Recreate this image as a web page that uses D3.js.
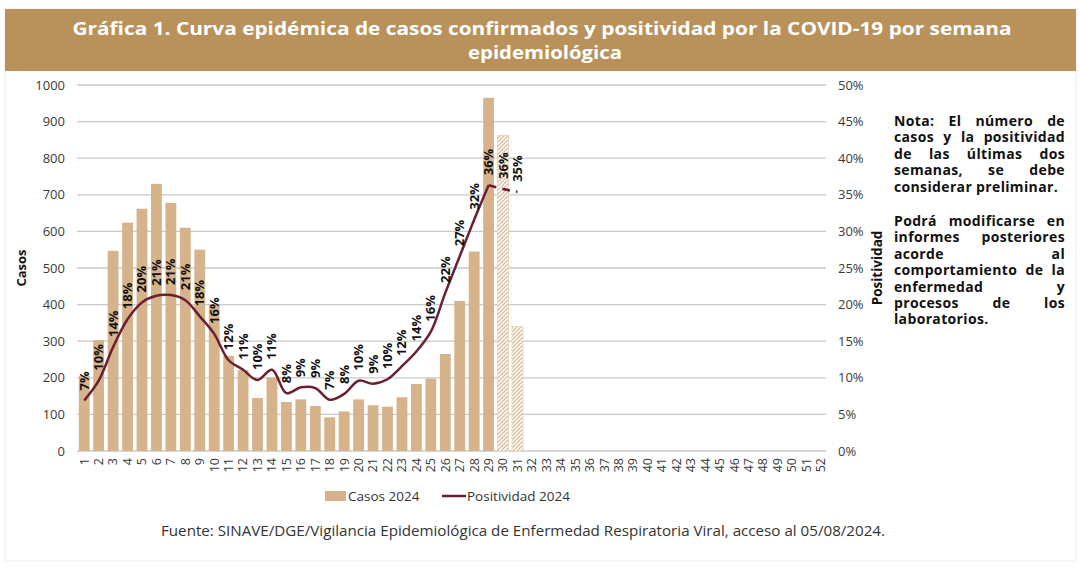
<!DOCTYPE html>
<html>
<head>
<meta charset="utf-8">
<script src="https://cdn.jsdelivr.net/npm/d3@7"></script>
<style>
  html, body { margin: 0; padding: 0; background: #ffffff; }
  svg { display: block; }
</style>
</head>
<body>
<svg id="chart" width="1080" height="568"></svg>
<script>
// ---------------- DATA ----------------
const weeks = d3.range(1, 53).map(String);
const casos2024 = [205, 303, 547, 624, 662, 730, 678, 610, 550, 400,
                   260, 221, 145, 201, 134, 141, 123, 92, 108, 141,
                   125, 121, 147, 183, 198, 265, 410, 545, 965, 862, 340];
const positividad2024 = [0.069, 0.096, 0.142, 0.180, 0.203, 0.212, 0.213, 0.206, 0.184, 0.160,
                         0.124, 0.111, 0.097, 0.111, 0.079, 0.087, 0.086, 0.070, 0.078, 0.096,
                         0.092, 0.098, 0.116, 0.136, 0.163, 0.216, 0.266, 0.316, 0.363, 0.358, 0.354];
const preliminarWeeks = ["30", "31"];
const casosTicks = [0, 100, 200, 300, 400, 500, 600, 700, 800, 900, 1000];
const positividadTicks = [0, 0.05, 0.10, 0.15, 0.20, 0.25, 0.30, 0.35, 0.40, 0.45, 0.50];
const titleLines = ["Gráfica 1. Curva epidémica de casos confirmados y positividad por la COVID-19 por semana",
                    "epidemiológica"];
const notaParrafos = [
  ["Nota: El número de", "casos y la positividad", "de las últimas dos", "semanas, se debe", "considerar preliminar."],
  ["Podrá modificarse en", "informes posteriores", "acorde al", "comportamiento de la", "enfermedad y", "procesos de los", "laboratorios."]
];
const legendItems = ["Casos 2024", "Positividad 2024"];
const fuente = "Fuente: SINAVE/DGE/Vigilancia Epidemiológica de Enfermedad Respiratoria Viral, acceso al 05/08/2024.";

// ---------------- STYLE ----------------
const BAR = "#d6b38b";
const LINE = "#6b1f30";
const BAND = "#b8925a";
const FONT = "'Open Sans', 'Noto Sans', sans-serif";

const svg = d3.select("#chart");

// border
svg.append("rect").attr("x", 5).attr("y", 9).attr("width", 1071).attr("height", 552)
  .attr("fill", "none").attr("stroke", "#ececec").attr("stroke-width", 1);

// title band
svg.append("rect").attr("x", 5).attr("y", 9).attr("width", 1071).attr("height", 62).attr("fill", BAND);
const titleLens = [939, 154];
titleLines.forEach((t, i) => {
  svg.append("text").attr("x", 540 + (i === 1 ? 5 : 2)).attr("y", i === 0 ? 35 : 59)
    .attr("text-anchor", "middle").attr("fill", "#fff")
    .attr("font-family", FONT).attr("font-weight", 700).attr("font-size", 18.5)
    .attr("textLength", titleLens[i]).attr("lengthAdjust", "spacingAndGlyphs")
    .text(t);
});

// scales
const x = d3.scaleBand().domain(weeks).range([77, 828]).paddingInner(0.25).paddingOuter(0.125);
const yL = d3.scaleLinear().domain([0, 1000]).range([451, 85]);
const yR = d3.scaleLinear().domain([0, 0.5]).range([451, 85]);

// gridlines
svg.append("g").selectAll("line").data(casosTicks).join("line")
  .attr("x1", 77).attr("x2", 826)
  .attr("y1", d => yL(d)).attr("y2", d => yL(d))
  .attr("stroke", "#c9c9c9").attr("stroke-width", 1.3);

// axes
const axL = svg.append("g").attr("transform", "translate(70,0)")
  .call(d3.axisLeft(yL).tickValues(casosTicks).tickSize(0).tickFormat(d3.format("d")));
axL.select(".domain").remove();
axL.selectAll("text").attr("font-family", FONT).attr("font-size", 13).attr("fill", "#3a3a3a").attr("dx", -2);

const axR = svg.append("g").attr("transform", "translate(833,0)")
  .call(d3.axisRight(yR).tickValues(positividadTicks).tickSize(0).tickFormat(d3.format(".0%")));
axR.select(".domain").remove();
axR.selectAll("text").attr("font-family", FONT).attr("font-size", 13).attr("fill", "#3a3a3a").attr("dx", 2);

const axB = svg.append("g").attr("transform", "translate(0,451)")
  .call(d3.axisBottom(x).tickSize(0));
axB.select(".domain").remove();
axB.selectAll("text")
  .attr("font-family", FONT).attr("font-size", 12.5).attr("fill", "#3a3a3a")
  .attr("text-anchor", "end").attr("dy", "0.35em")
  .attr("transform", "translate(0,7) rotate(-90)")
  .attr("x", 0).attr("y", 0);

// hatch pattern
const defs = svg.append("defs");
const pat = defs.append("pattern").attr("id", "hatch").attr("patternUnits", "userSpaceOnUse")
  .attr("width", 4).attr("height", 4);
pat.append("rect").attr("width", 4).attr("height", 4).attr("fill", "#fff");
pat.append("path").attr("d", "M-1,1 L1,-1 M0,4 L4,0 M3,5 L5,3")
  .attr("stroke", "#d2b28a").attr("stroke-width", 1.1);

// bars
const barData = casos2024.map((v, i) => ({ w: weeks[i], v }));
svg.append("g").selectAll("rect").data(barData).join("rect")
  .attr("x", d => x(d.w)).attr("width", x.bandwidth())
  .attr("y", d => yL(d.v)).attr("height", d => yL(0) - yL(d.v))
  .attr("fill", d => preliminarWeeks.includes(d.w) ? "url(#hatch)" : BAR)
  .attr("stroke", d => preliminarWeeks.includes(d.w) ? "#e6d5bd" : "none")
  .attr("stroke-width", 1);

// line
const pts = positividad2024.map((v, i) => ({ w: weeks[i], v }));
const line = d3.line().x(d => x(d.w) + x.bandwidth() / 2).y(d => yR(d.v)).curve(d3.curveCatmullRom.alpha(0.5));
const nSolid = positividad2024.length - preliminarWeeks.length;
svg.append("path").datum(pts.slice(0, nSolid)).attr("d", line)
  .attr("fill", "none").attr("stroke", LINE).attr("stroke-width", 2.5).attr("stroke-linejoin", "round");
svg.append("path").datum(pts.slice(nSolid - 1)).attr("d", line)
  .attr("fill", "none").attr("stroke", LINE).attr("stroke-width", 2.5).attr("stroke-dasharray", "8,6");

// labels
svg.append("g").selectAll("text").data(pts).join("text")
  .attr("transform", d => `translate(${x(d.w) + x.bandwidth() / 2 + 4.5},${yR(d.v) - 10}) rotate(-90)`)
  .attr("font-family", FONT).attr("font-weight", 700).attr("font-size", 13).attr("fill", "#111")
  .text(d => d3.format(".0%")(d.v));

// axis titles
svg.append("text").attr("transform", "translate(26,268) rotate(-90)").attr("text-anchor", "middle")
  .attr("font-family", FONT).attr("font-weight", 700).attr("font-size", 13).attr("fill", "#111").text("Casos");
svg.append("text").attr("transform", "translate(882,268) rotate(-90)").attr("text-anchor", "middle")
  .attr("font-family", FONT).attr("font-weight", 700).attr("font-size", 13.5).attr("fill", "#111").text("Positividad");

// note (justified, one text per line using word-spacing)
const noteX0 = 894, noteX1 = 1065, noteFS = 14, noteLS = 0.35;
const paraStarts = [126, 226];
const lh = 16.4;
notaParrafos.forEach((lines, p) => {
  lines.forEach((ln, k) => {
    const t = svg.append("text").attr("x", noteX0).attr("y", paraStarts[p] + k * lh)
      .attr("font-family", FONT).attr("font-weight", 700).attr("font-size", noteFS)
      .attr("letter-spacing", noteLS).attr("fill", "#111").text(ln);
    const words = ln.split(" ");
    const last = k === lines.length - 1;
    if (!last && words.length > 1) {
      const w = t.node().getComputedTextLength();
      const extra = (noteX1 - noteX0 - w) / (words.length - 1);
      t.attr("word-spacing", extra);
    }
  });
});

// legend
svg.append("rect").attr("x", 325).attr("y", 491).attr("width", 21).attr("height", 10).attr("fill", BAR);
svg.append("text").attr("x", 348).attr("y", 500.5).attr("font-family", FONT).attr("font-size", 13.5)
  .attr("fill", "#333").text(legendItems[0]);
svg.append("line").attr("x1", 442).attr("x2", 466).attr("y1", 496).attr("y2", 496)
  .attr("stroke", LINE).attr("stroke-width", 2.5);
svg.append("text").attr("x", 467).attr("y", 500.5).attr("font-family", FONT).attr("font-size", 13.5)
  .attr("fill", "#333").text(legendItems[1]);

// source
svg.append("text").attr("x", 523).attr("y", 536).attr("text-anchor", "middle")
  .attr("font-family", FONT).attr("font-size", 14.5).attr("fill", "#333")
  .attr("textLength", 724).attr("lengthAdjust", "spacingAndGlyphs").text(fuente);
</script>
</body>
</html>
